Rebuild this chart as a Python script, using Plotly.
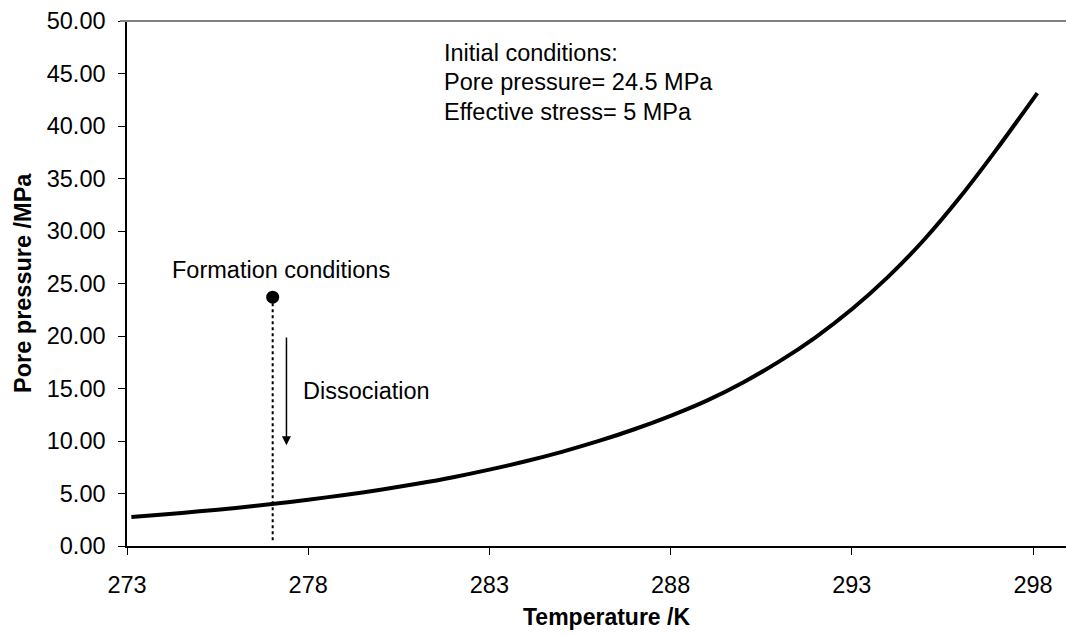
import plotly.graph_objects as go

# Hydrate equilibrium curve (temperature in K, pore pressure in MPa)
temperature_k = [273.12, 274, 275, 276, 277, 278, 279, 280, 281, 282, 283, 284, 285,
                 286, 287, 288, 289, 290, 291, 292, 293, 294, 295, 296, 297, 298.12]
pressure_mpa = [2.76, 3.00, 3.30, 3.63, 4.00, 4.41, 4.86, 5.36, 5.92, 6.55, 7.27, 8.07, 8.97,
                9.98, 11.12, 12.40, 13.85, 15.58, 17.58, 19.88, 22.54, 25.63, 29.19, 33.28,
                37.80, 43.13]

# Formation point and dissociation path
formation_t = 277.02
formation_p = 23.7
dissociation_from = 20.0
dissociation_to = 9.6

x_ticks = [273, 278, 283, 288, 293, 298]
y_ticks = [0, 5, 10, 15, 20, 25, 30, 35, 40, 45, 50]

initial_lines = ["Initial conditions:", "Pore pressure= 24.5 MPa", "Effective stress= 5 MPa"]
initial_y = [47.0, 44.15, 41.3]
initial_x = 281.68

FONT = "Liberation Sans, Arial, sans-serif"
TXT = 23.5
W, H = 1066, 636
ML, MR, MT, MB = 127, 0, 21, 90

fig = go.Figure()

fig.add_trace(go.Scatter(
    x=temperature_k, y=pressure_mpa, mode="lines",
    line=dict(color="black", width=4, shape="spline", smoothing=0.8),
    hoverinfo="skip", showlegend=False,
))

fig.add_trace(go.Scatter(
    x=[formation_t, formation_t], y=[formation_p, 0.5], mode="lines",
    line=dict(color="black", width=2, dash="dot"),
    hoverinfo="skip", showlegend=False,
))

fig.add_trace(go.Scatter(
    x=[formation_t], y=[formation_p], mode="markers",
    marker=dict(color="black", size=13),
    hoverinfo="skip", showlegend=False,
))

annotations = []
for txt, yy in zip(initial_lines, initial_y):
    annotations.append(dict(
        x=initial_x, y=yy, xref="x", yref="y", text=txt, showarrow=False,
        xanchor="left", yanchor="middle", font=dict(family=FONT, size=TXT, color="black"),
    ))

annotations.append(dict(
    x=274.18, y=26.3, xref="x", yref="y", text="Formation conditions", showarrow=False,
    xanchor="left", yanchor="middle", font=dict(family=FONT, size=TXT, color="black"),
))
annotations.append(dict(
    x=277.81, y=14.75, xref="x", yref="y", text="Dissociation", showarrow=False,
    xanchor="left", yanchor="middle", font=dict(family=FONT, size=TXT, color="black"),
))
annotations.append(dict(
    x=277.4, y=dissociation_to, ax=277.4, ay=dissociation_from,
    xref="x", yref="y", axref="x", ayref="y", text="", showarrow=True,
    arrowhead=2, arrowsize=1.2, arrowwidth=1.5, arrowcolor="black",
))

# Axis titles
annotations.append(dict(
    x=0, y=0.5, xref="paper", yref="paper", xshift=-104.5, textangle=-90,
    text="<b>Pore pressure /MPa</b>", showarrow=False, xanchor="center", yanchor="middle",
    font=dict(family=FONT, size=23.5, color="black"),
))
annotations.append(dict(
    x=0.511, y=0, xref="paper", yref="paper", yshift=-71,
    text="<b>Temperature /K</b>", showarrow=False, xanchor="center", yanchor="middle",
    font=dict(family=FONT, size=23, color="black"),
))

fig.update_layout(
    width=W, height=H,
    margin=dict(l=ML, r=MR, t=MT, b=MB, pad=0),
    paper_bgcolor="white", plot_bgcolor="white",
    annotations=annotations,
    shapes=[dict(type="line", xref="paper", yref="paper", x0=-7 / (W - ML - MR), x1=1,
                 y0=1, y1=1, line=dict(color="#808080", width=2))],
    xaxis=dict(
        range=[273, 273 + (W - ML - MR) / 36.24], tickvals=x_ticks,
        ticktext=[str(v) for v in x_ticks],
        showgrid=False, zeroline=False, showline=True, linecolor="black", linewidth=1.5,
        ticks="outside", ticklen=7, tickcolor="black", tickwidth=1.2,
        tickfont=dict(family=FONT, size=TXT, color="black"), ticklabelstandoff=10,
    ),
    yaxis=dict(
        range=[0, 50], tickvals=y_ticks, ticktext=[f"{v:.2f}" for v in y_ticks],
        showgrid=False, zeroline=False, showline=True, linecolor="black", linewidth=1.5,
        ticks="outside", ticklen=7, tickcolor="black", tickwidth=1.2,
        tickfont=dict(family=FONT, size=TXT, color="black"), ticklabelstandoff=8,
    ),
)

fig.write_html("out.html")
